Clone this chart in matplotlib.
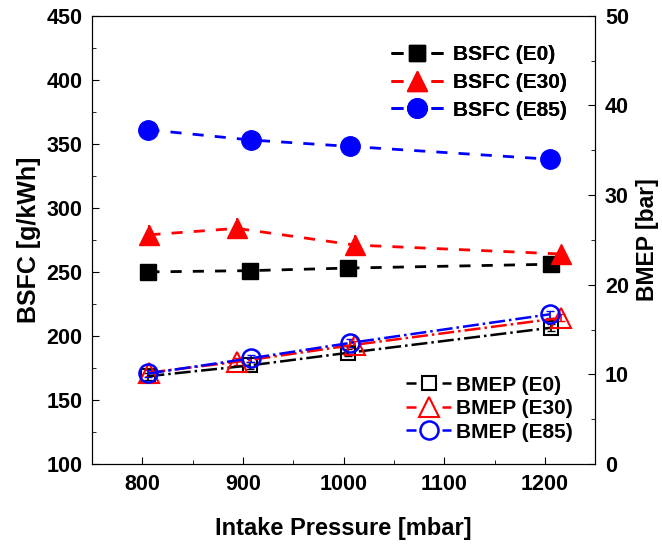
import matplotlib
matplotlib.use("Agg")
import matplotlib.pyplot as plt
from matplotlib.lines import Line2D
from matplotlib.ticker import MultipleLocator

plt.rcParams['font.family'] = ['Liberation Sans', 'DejaVu Sans']
plt.rcParams['font.weight'] = 'bold'

# intake pressure [mbar] for each fuel
p_e0 = [806, 907, 1004, 1206]
p_e30 = [807, 894, 1011, 1216]
p_e85 = [806, 908, 1006, 1205]

# BSFC [g/kWh]
bsfc_e0 = [250, 251, 253, 256]
bsfc_e30 = [279, 284, 271, 264]
bsfc_e85 = [361, 353, 348, 338]
bsfc_e30_err = [8, 8, 8, 6]

# BMEP [bar]
bmep_e0 = [9.8, 11.0, 12.4, 15.2]
bmep_e30 = [10.2, 11.4, 13.3, 16.3]
bmep_e85 = [10.1, 11.8, 13.5, 16.7]
bmep_err = [0.4, 0.4, 0.4, 0.4]

fig = plt.figure(figsize=(6.62, 5.44), dpi=100)
ax = fig.add_axes([0.139, 0.147, 0.76, 0.824])
ax2 = ax.twinx()

# BSFC: filled markers, dashed lines
ax.errorbar(p_e30, bsfc_e30, yerr=bsfc_e30_err, fmt='none', ecolor='r', elinewidth=1.2)
ax.plot(p_e0, bsfc_e0, 'k--', marker='s', ms=12, lw=2, dashes=(4, 4))
ax.plot(p_e30, bsfc_e30, 'r--', marker='^', ms=14, lw=2, dashes=(4, 4))
ax.plot(p_e85, bsfc_e85, 'b--', marker='o', ms=14, lw=2, dashes=(4, 4))

# BMEP: open markers, dash-dot lines
for p, v, c in [(p_e0, bmep_e0, 'k'), (p_e30, bmep_e30, 'r'), (p_e85, bmep_e85, 'b')]:
    ax2.errorbar(p, v, yerr=bmep_err, fmt='none', ecolor=c, elinewidth=1.2, capsize=3)
ax2.plot(p_e0, bmep_e0, 'k-.', marker='s', ms=10, mfc='none', mew=1.5, lw=1.8)
ax2.plot(p_e30, bmep_e30, 'r-.', marker='^', ms=14, mfc='none', mew=1.5, lw=1.8)
ax2.plot(p_e85, bmep_e85, 'b-.', marker='o', ms=13, mfc='none', mew=1.8, lw=1.8)

ax.set_xlim(750, 1250)
ax.set_ylim(100, 450)
ax2.set_ylim(0, 50)

ax.xaxis.set_major_locator(MultipleLocator(100))
ax.xaxis.set_minor_locator(MultipleLocator(50))
ax.yaxis.set_major_locator(MultipleLocator(50))
ax.yaxis.set_minor_locator(MultipleLocator(25))
ax2.yaxis.set_major_locator(MultipleLocator(10))
ax2.yaxis.set_minor_locator(MultipleLocator(5))

ax.tick_params(axis='both', which='both', direction='in', labelsize=15.5, top=False, right=False, pad=7)
ax.tick_params(which='major', length=5)
ax.tick_params(which='minor', length=3)
ax2.tick_params(axis='y', which='both', direction='in', labelsize=15.5, pad=7)
ax2.tick_params(which='major', length=5)
ax2.tick_params(which='minor', length=3)

ax.set_xlabel('Intake Pressure [mbar]', fontsize=17, fontweight='bold', labelpad=16)
ax.set_ylabel('BSFC [g/kWh]', fontsize=18, fontweight='bold', labelpad=4)
ax2.set_ylabel('BMEP [bar]', fontsize=16.5, fontweight='bold', labelpad=5)

# legend keys: a short dash either side of the marker
bsfc_keys = [
    Line2D([], [], color='k', marker='s', ms=12, lw=2, dashes=(4.3, 10.1)),
    Line2D([], [], color='r', marker='^', ms=14, lw=2, dashes=(4.3, 10.1)),
    Line2D([], [], color='b', marker='o', ms=14, lw=2, dashes=(4.3, 10.1)),
]
bmep_keys = [
    Line2D([], [], color='k', marker='s', ms=10, mfc='none', mew=1.5, lw=1.8, dashes=(4, 10.4)),
    Line2D([], [], color='r', marker='^', ms=14, mfc='none', mew=1.5, lw=1.8, dashes=(4, 10.4)),
    Line2D([], [], color='b', marker='o', ms=13, mfc='none', mew=1.8, lw=1.8, dashes=(4, 10.4)),
]

leg1 = ax.legend(bsfc_keys, ['BSFC (E0)', 'BSFC (E30)', 'BSFC (E85)'],
                 loc='upper right', bbox_to_anchor=(0.982, 0.976),
                 frameon=False, fontsize=15, handlelength=2.5, labelspacing=0.42,
                 handletextpad=0.5)
ax.add_artist(leg1)
ax2.legend(bmep_keys, ['BMEP (E0)', 'BMEP (E30)', 'BMEP (E85)'],
           loc='lower right', bbox_to_anchor=(0.992, 0.008),
           frameon=False, fontsize=15, handlelength=2.2, labelspacing=0.22,
           handletextpad=0.2)

fig.savefig('out.png', dpi=100)
